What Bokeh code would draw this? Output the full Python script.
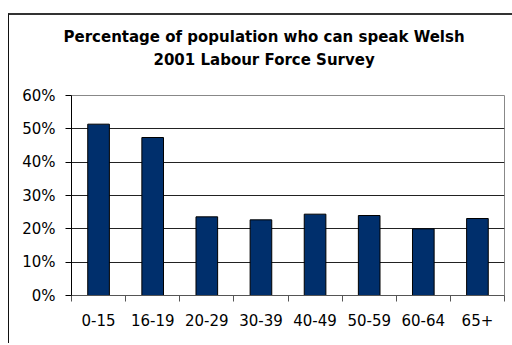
from bokeh.plotting import figure
from bokeh.models import (Range1d, FixedTicker, NumeralTickFormatter, Title, ColumnDataSource)
from bokeh.embed import file_html
from bokeh.resources import INLINE

categories = ["0-15", "16-19", "20-29", "30-39", "40-49", "50-59", "60-64", "65+"]
values = [0.514, 0.474, 0.236, 0.227, 0.244, 0.240, 0.200, 0.231]
y_ticks = [0.0, 0.1, 0.2, 0.3, 0.4, 0.5, 0.6]
title_lines = ["Percentage of population who can speak Welsh", "2001 Labour Force Survey"]

FONT = "DejaVu Sans"

xs = [i + 0.5 for i in range(len(categories))]
src = ColumnDataSource(dict(x=xs, top=values, cat=categories))

p = figure(width=504, height=330, output_backend="svg", toolbar_location=None,
           x_range=Range1d(0, len(categories)), y_range=Range1d(0, 0.6),
           min_border_left=62, min_border_right=9, min_border_top=80, min_border_bottom=50,
           background_fill_color="white", border_fill_color="white")
p.styles = {"margin-left": "8px", "margin-top": "13px",
            "border-left": "1px solid #111111", "border-top": "2px solid #333333"}

p.vbar(x="x", top="top", width=0.4, bottom=0, source=src,
       fill_color="#002F6C", line_color="black", line_width=1)

# axes
p.xaxis.ticker = FixedTicker(ticks=xs, minor_ticks=list(range(len(categories) + 1)))
p.xaxis.major_label_overrides = {x: c for x, c in zip(xs, categories)}
p.xaxis.major_tick_out = 0
p.xaxis.major_tick_in = 0
p.xaxis.minor_tick_out = 6
p.xaxis.minor_tick_in = 0
p.xaxis.minor_tick_line_color = "#555555"
p.xaxis.axis_line_color = "#555555"
p.xaxis.major_label_standoff = 12
p.xaxis.major_label_text_font = FONT
p.xaxis.major_label_text_font_size = "15px"
p.xaxis.major_label_text_color = "black"

p.yaxis.ticker = FixedTicker(ticks=y_ticks)
p.yaxis.formatter = NumeralTickFormatter(format="0%")
p.yaxis.major_tick_out = 6
p.yaxis.major_tick_in = 0
p.yaxis.minor_tick_out = 0
p.yaxis.minor_tick_in = 0
p.yaxis.axis_line_color = "black"
p.yaxis.major_tick_line_color = "black"
p.yaxis.major_label_standoff = 10
p.yaxis.major_label_text_font = FONT
p.yaxis.major_label_text_font_size = "15px"
p.yaxis.major_label_text_color = "black"

p.xgrid.grid_line_color = None
p.ygrid.ticker = FixedTicker(ticks=y_ticks)
p.ygrid.grid_line_color = "#222222"
p.ygrid.grid_line_width = 1
p.outline_line_color = "#888888"
p.outline_line_width = 1

# title: first line is the figure's own title (outermost)
p.title.text = title_lines[0]
p.title.align = "left"
p.title.offset = -8
p.title.text_font = FONT
p.title.text_font_style = "bold"
p.title.text_font_size = "15px"
p.title.text_color = "black"
p.title.standoff = 5

# spacer panel nearest the frame, then the second title line above it
p.add_layout(Title(text=" ", text_font_size="1px", standoff=24), "above")
p.add_layout(Title(text=title_lines[1], align="left", offset=82,
                   text_font=FONT, text_font_style="bold", text_font_size="15px",
                   text_color="black", standoff=0), "above")

open("out.html", "w").write(file_html(p, INLINE))
